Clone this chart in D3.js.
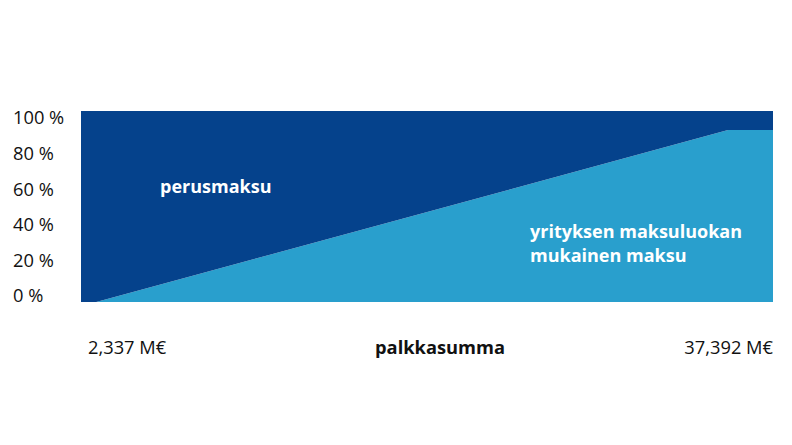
<!DOCTYPE html>
<html><head><meta charset="utf-8">
<script src="https://cdn.jsdelivr.net/npm/d3@7"></script>
<style>body{margin:0;background:#fff;}svg{display:block;font-family:"Open Sans","Noto Sans",sans-serif;}</style>
</head><body>
<svg id="c" width="792" height="445"></svg>
<script>
// Share of payroll range (0 = 2,337 M€, 1 = 37,392 M€)
const positions = [0, 0.022, 0.935, 1];
// share of "yrityksen maksuluokan mukainen maksu" (%)
const classShare = [0, 0, 90, 90];
// share of "perusmaksu" (%)
const baseShare = [100, 100, 10, 10];
const yTicks = [0, 20, 40, 60, 80, 100];
const xLabels = ["2,337 M€", "37,392 M€"];
const xTitle = "palkkasumma";
const seriesNames = ["yrityksen maksuluokan mukainen maksu", "perusmaksu"];

const svg = d3.select("#c");
const L = 81, R = 773, T = 111, B = 302;
const x = d3.scaleLinear().domain([0, 1]).range([L, R]);
const y = d3.scaleLinear().domain([0, 100]).range([B, T]);
const yLab = d3.scaleLinear().domain([0, 100]).range([296, 118]);

const rows = positions.map((p, i) => ({p, cls: classShare[i], base: baseShare[i]}));
const stack = d3.stack().keys(["cls", "base"])(rows);
const colors = ["#299FCD", "#05428C"];
const area = d3.area().x(d => x(d.data.p)).y0(d => y(d[0])).y1(d => y(d[1]));
svg.selectAll("path.a").data(stack).join("path")
  .attr("fill", (d, i) => colors[i]).attr("d", area);

svg.selectAll("text.yt").data(yTicks).join("text")
  .attr("x", 13).attr("y", d => yLab(d)).attr("dy", "0.35em")
  .attr("font-size", 18.3).attr("fill", "#111").text(d => d + " %");

svg.append("text").attr("x", 88).attr("y", 354).attr("font-size", 18.3).attr("fill", "#111").text(xLabels[0]);
svg.append("text").attr("x", R).attr("y", 354).attr("text-anchor", "end").attr("font-size", 18.3).attr("fill", "#111").text(xLabels[1]);
svg.append("text").attr("x", 440).attr("y", 354).attr("text-anchor", "middle").attr("font-size", 18.3).attr("font-weight", "bold").attr("fill", "#111").text(xTitle);

svg.append("text").attr("x", 160).attr("y", 193).attr("font-size", 18).attr("font-weight", "bold").attr("fill", "#fff").text(seriesNames[1]);
const t = svg.append("text").attr("x", 530).attr("y", 238).attr("font-size", 18).attr("font-weight", "bold").attr("fill", "#fff");
t.append("tspan").attr("x", 530).text("yrityksen maksuluokan");
t.append("tspan").attr("x", 530).attr("dy", 24).text("mukainen maksu");
</script>
</body></html>
